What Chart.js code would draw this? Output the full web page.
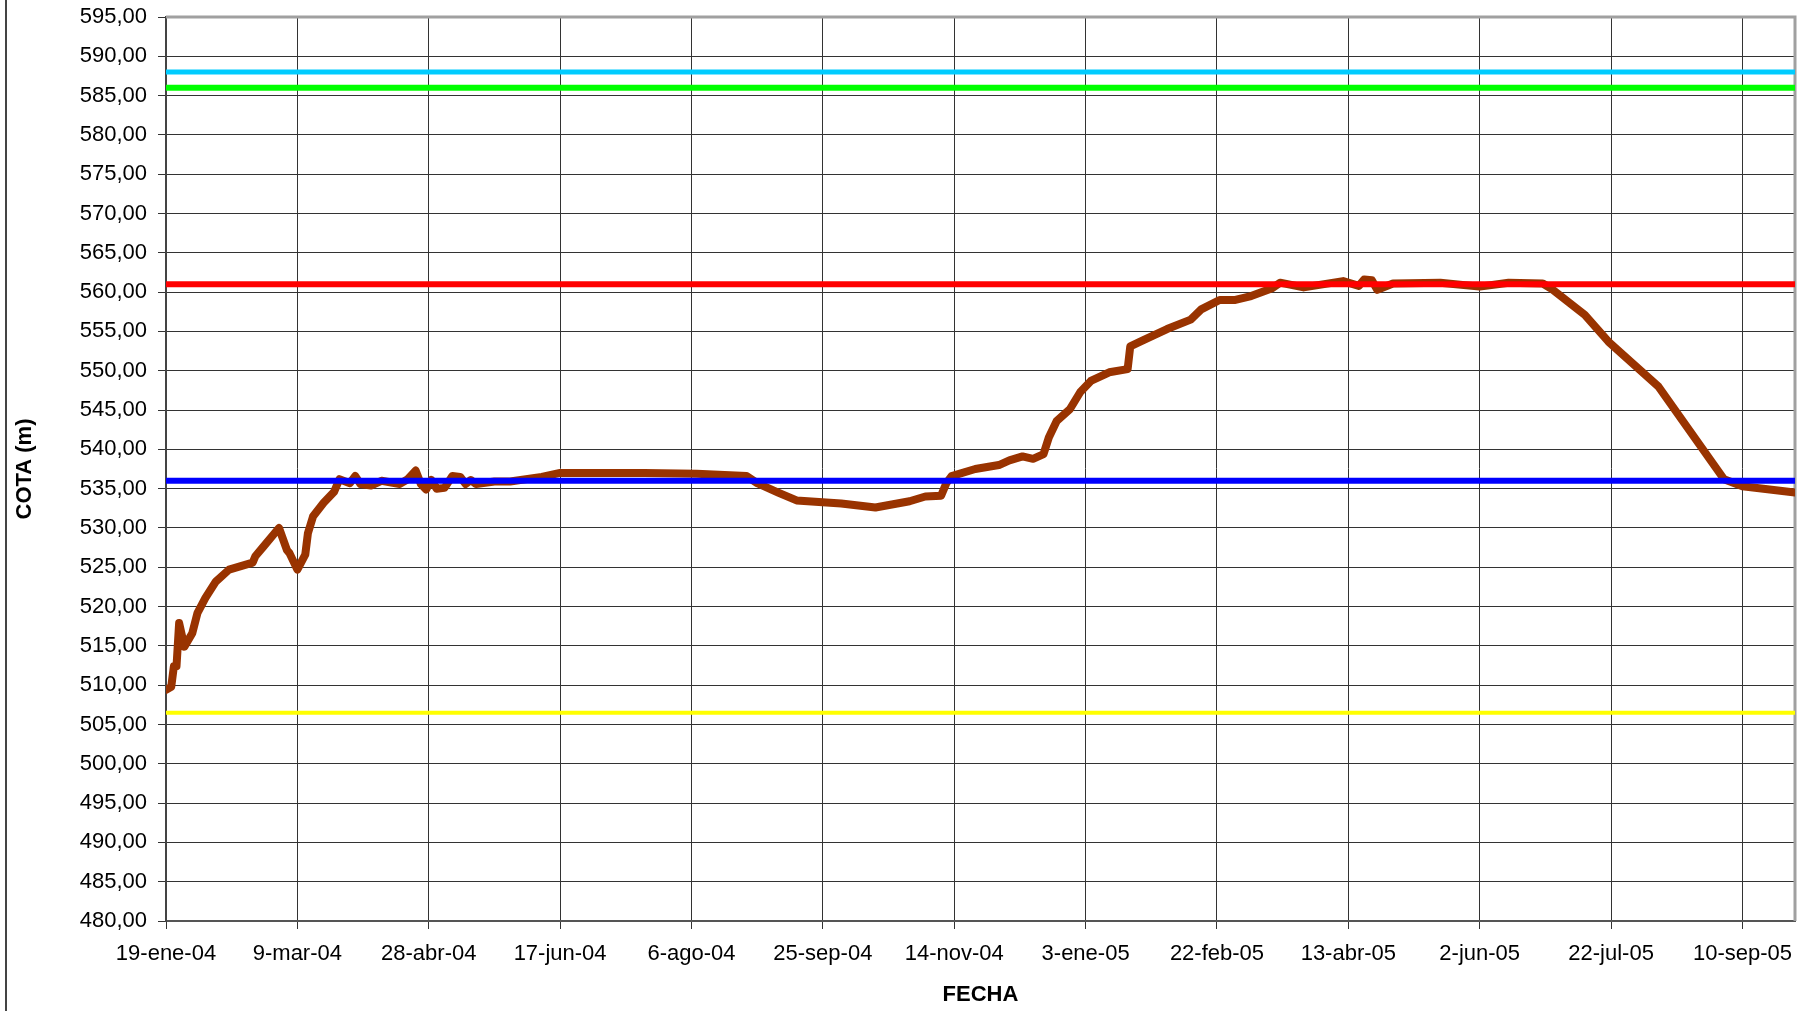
<!DOCTYPE html>
<html>
<head>
<meta charset="utf-8">
<title>COTA (m) - FECHA</title>
<script src="https://cdn.jsdelivr.net/npm/chart.js@4.4.0/dist/chart.umd.min.js"></script>
<style>
    html, body { margin: 0; padding: 0; background: #fff; }
    canvas { display: block; }
</style>
</head>
<body>
<canvas id="cotaChart" width="1810" height="1011"></canvas>
<script>
// dias contados desde el 19-ene-04
const dias = [0, 2, 3, 4, 5, 7, 10, 12, 15, 19, 24, 33, 34, 37, 43, 46, 47, 50, 53, 54,
    56, 60, 64, 66, 70, 72, 74, 78, 82, 89, 92, 95, 97, 99, 101, 103, 106, 109, 112, 114,
    116, 118, 125, 131, 143, 150, 182, 202, 221, 225, 233, 240, 257, 270, 283, 289, 295, 297, 299, 308,
    317, 321, 326, 330, 334, 336, 339, 344, 348, 352, 359, 366, 367, 372, 381, 390, 394, 401, 407, 413,
    421, 424, 433, 448, 454, 456, 459, 461, 467, 485, 500, 511, 524, 527, 540, 549, 568, 593, 600, 620];
const cotas = [509.4, 509.8, 512.4, 512.4, 517.9, 514.9, 516.6, 519.2, 521.1, 523.2, 524.7, 525.6, 526.4, 527.6, 530.0, 527.2, 526.8, 524.7, 526.6, 529.3,
    531.5, 533.2, 534.6, 536.2, 535.7, 536.6, 535.6, 535.4, 536.0, 535.6, 536.2, 537.3, 535.6, 534.9, 536.1, 535.0, 535.1, 536.6, 536.5, 535.6,
    536.1, 535.6, 535.9, 535.9, 536.5, 537.0, 537.0, 536.9, 536.6, 535.7, 534.5, 533.5, 533.1, 532.6, 533.4, 534.0, 534.1, 535.7, 536.6, 537.5,
    538.0, 538.6, 539.1, 538.8, 539.4, 541.5, 543.6, 545.1, 547.3, 548.7, 549.8, 550.2, 553.1, 553.9, 555.3, 556.5, 557.8, 559.0, 559.0, 559.5,
    560.5, 561.2, 560.6, 561.4, 560.8, 561.6, 561.5, 560.3, 561.1, 561.2, 560.7, 561.2, 561.1, 560.5, 557.1, 553.7, 548.0, 536.2, 535.3, 534.5];

// niveles horizontales de referencia
const nivelesRef = [588, 586, 561, 536, 506.5];

const fechasEje = ['19-ene-04', '9-mar-04', '28-abr-04', '17-jun-04', '6-ago-04', '25-sep-04', '14-nov-04',
    '3-ene-05', '22-feb-05', '13-abr-05', '2-jun-05', '22-jul-05', '10-sep-05'];
const pasoDias = 50;
const diaFinal = 620;
const cotaMin = 480;
const cotaMax = 595;
const pasoCota = 5;

const coloresRef = ['#00ccff', '#00ff00', '#ff0000', '#0000ff', '#ffff00'];
const anchosRef = [5, 6, 6, 6, 4];

Chart.defaults.font.family = 'Arial, "Liberation Sans", sans-serif';
Chart.defaults.color = '#000';

const marco = {
    id: 'marco',
    beforeDatasetsDraw(chart) {
        const { ctx, chartArea: a } = chart;
        ctx.save();
        ctx.strokeStyle = '#a0a0a0';
        ctx.lineWidth = 3;
        ctx.beginPath();
        ctx.moveTo(a.left, a.top);
        ctx.lineTo(a.right, a.top);
        ctx.lineTo(a.right, a.bottom);
        ctx.stroke();
        ctx.strokeStyle = '#444';
        ctx.lineWidth = 2;
        ctx.beginPath();
        ctx.moveTo(6, 0);
        ctx.lineTo(6, chart.height);
        ctx.stroke();
        ctx.restore();
    }
};

const datasets = nivelesRef.map((nivel, i) => ({
    data: [{ x: 0, y: nivel }, { x: diaFinal, y: nivel }],
    borderColor: coloresRef[i],
    borderWidth: anchosRef[i],
    pointRadius: 0,
    order: 1
}));

datasets.push({
    data: dias.map((d, i) => ({ x: d, y: cotas[i] })),
    borderColor: '#993300',
    borderWidth: 8,
    borderJoinStyle: 'round',
    borderCapStyle: 'round',
    pointRadius: 0,
    tension: 0,
    order: 2
});

const ctx = document.getElementById('cotaChart').getContext('2d');
new Chart(ctx, {
    type: 'line',
    data: { datasets: datasets },
    options: {
        responsive: false,
        animation: false,
        layout: { padding: { top: 17, right: 15, bottom: 0, left: 0 } },
        plugins: {
            legend: { display: false },
            tooltip: { enabled: false }
        },
        scales: {
            x: {
                type: 'linear',
                min: 0,
                max: diaFinal,
                afterBuildTicks: scale => {
                    scale.ticks = fechasEje.map((_, i) => ({ value: i * pasoDias }));
                },
                afterFit: scale => { scale.height = 90; },
                ticks: {
                    autoSkip: false,
                    maxRotation: 0,
                    padding: 12,
                    font: { size: 22 },
                    callback: (v, i) => fechasEje[i]
                },
                grid: { color: '#333', lineWidth: 1, tickLength: 8 },
                border: { color: '#555', width: 2 },
                title: {
                    display: true,
                    text: 'FECHA',
                    font: { size: 22, weight: 'bold' },
                    padding: { top: 0, bottom: 3 }
                }
            },
            y: {
                min: cotaMin,
                max: cotaMax,
                afterFit: scale => {
                    scale.width = 166;
                    scale.paddingTop = 0;
                    scale.paddingBottom = 0;
                },
                ticks: {
                    stepSize: pasoCota,
                    padding: 11,
                    font: { size: 22 },
                    callback: v => v.toFixed(2).replace('.', ',')
                },
                grid: { color: '#333', lineWidth: 1, tickLength: 8 },
                border: { color: '#444', width: 2 },
                title: {
                    display: true,
                    text: 'COTA (m)',
                    font: { size: 22, weight: 'bold' },
                    padding: { top: 12, bottom: 0 }
                }
            }
        }
    },
    plugins: [marco]
});
</script>
</body>
</html>
